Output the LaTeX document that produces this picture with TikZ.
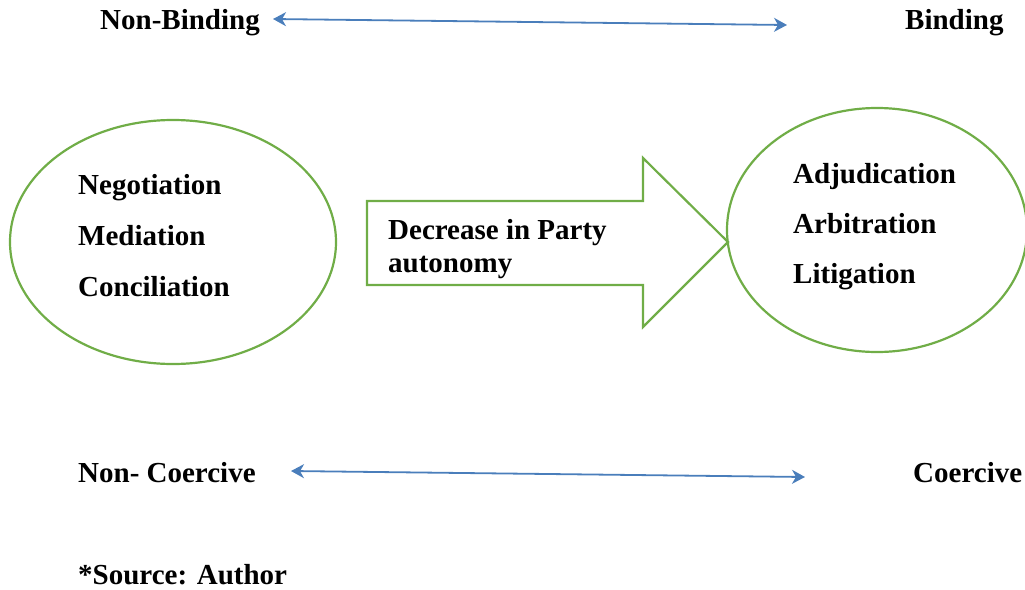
\documentclass[tikz,border=0pt]{standalone}
\usepackage{fontspec}
\setmainfont{Liberation Serif}
\usepackage{tikz}
\usetikzlibrary{arrows.meta,shapes.geometric}
\definecolor{boxgreen}{RGB}{112,173,71}
\definecolor{linkblue}{RGB}{74,126,187}

\begin{document}
\begin{tikzpicture}[x=1pt, y=-1pt,
    word/.style={anchor=base west, inner sep=0pt, font=\fontsize{29}{33}\selectfont\bfseries},
    oval/.style={draw=boxgreen, line width=2.2pt, ellipse, inner sep=0pt},
    span/.style={draw=linkblue, line width=1.8pt,
      {Stealth[length=13pt,width=14pt,inset=4pt]}-{Stealth[length=13pt,width=14pt,inset=4pt]}}]
              \useasboundingbox (0, 0) rectangle (1025, 589);
              % scales
              \node (nonbind) at (100, 29) [word] {Non-Binding};
              \node (bind) at (905, 29) [word] {Binding};
              \coordinate (bindL) at (273, 19);
              \coordinate (bindR) at (787, 25);
              \draw [span] (bindL) -- (bindR);
              \node (noncoer) at (78, 482) [word] {Non- Coercive};
              \node (coer) at (913, 482) [word] {Coercive};
              \coordinate (coerL) at (291, 471);
              \coordinate (coerR) at (805, 477);
              \draw [span] (coerL) -- (coerR);
              % ovals
              \node (soft) at (173, 242) [oval, minimum width=326, minimum height=244] {};
              \node (hard) at (877, 230) [oval, minimum width=300, minimum height=244] {};
              \node (nego) at (78, 194) [word] {Negotiation};
              \node (medi) at (78, 245) [word] {Mediation};
              \node (conc) at (78, 296) [word] {Conciliation};
              \node (adju) at (793, 183) [word] {Adjudication};
              \node (arbi) at (793, 233) [word] {Arbitration};
              \node (liti) at (793, 283) [word] {Litigation};
              % block arrow
              \coordinate (tip) at (728, 242);
              \draw [boxgreen, line width=2.2pt, line join=miter]
                (367, 201) -- (643, 201) -- (643, 158) -- (tip)
                -- (643, 327) -- (643, 285) -- (367, 285) -- cycle;
              \node (less) at (388, 239) [word] {Decrease in Party};
              \node (less2) at (388, 272) [word] {autonomy};
              \node (src) at (78, 584) [word] {*Source: Author};
            \end{tikzpicture}
\end{document}
